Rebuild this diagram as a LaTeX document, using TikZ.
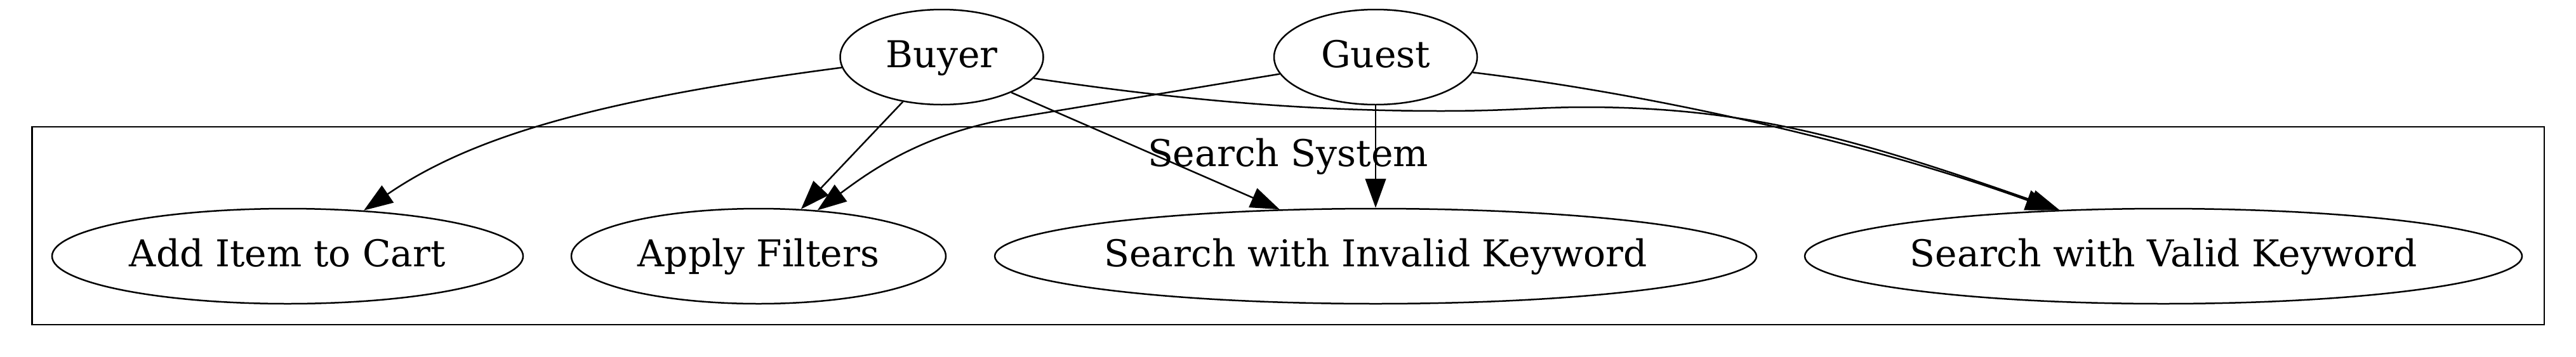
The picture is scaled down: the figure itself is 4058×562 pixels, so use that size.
\documentclass[tikz,border=0pt]{standalone}
\usepackage{fontspec}
\setmainfont{DejaVu Serif}
\usetikzlibrary{shapes.geometric,arrows.meta}
\begin{document}
\begin{tikzpicture}[x=0.24pt,y=-0.24pt,
  every node/.style={font=\fontsize{14pt}{16pt}\selectfont},
  usecase/.style={ellipse, draw, line width=0.6pt, minimum height=36pt,
    inner xsep=-15pt, inner ysep=0pt, text height=10.8pt, text depth=2.8pt},
  conn/.style={draw, line width=0.6pt, -{Triangle[length=11pt,width=7.8pt]}},
  clusterbox/.style={draw, line width=0.7pt, rectangle, inner sep=0pt}
]
\useasboundingbox (0,0) rectangle (4058,562);

% cluster
\node[clusterbox, minimum width=949.92pt, minimum height=74.88pt] (sys) at (2029,356) {};
\node[anchor=base, inner sep=0pt] (syslabel) at (2029,262) {Search System};

% nodes
\node[usecase, minimum width=76.8pt] (buyer) at (1483.5,90) {Buyer};
\node[usecase, minimum width=76.8pt] (guest) at (2167,90) {Guest};
\node[usecase, minimum width=178.1pt] (add) at (453,404) {Add Item to Cart};
\node[usecase, minimum width=141.6pt] (apply) at (1195,404) {Apply Filters};
\node[usecase, minimum width=288pt] (invalid) at (2167,404) {Search with Invalid Keyword};
\node[usecase, minimum width=271.2pt] (valid) at (3408,404) {Search with Valid Keyword};

% connectors
\draw[conn] (buyer.186.6) .. controls +(-397,52) and +(165,-113) .. (add.31.4);
\draw[conn] (buyer.229) -- (apply.48);
\draw[conn] (buyer.333.8) -- (invalid.154.8);
\draw[conn] (buyer.347.7) .. controls +(222,33) and +(-220,0) .. (2270,175)
   .. controls +(110,0) and +(-77,0) .. (2497,169)
   .. controls +(250,0) and +(-329,-115.5) .. (valid.156);
\draw[conn] (guest.190.1) -- ++(-417,69) .. controls +(-148,24.5) and +(80.5,-59.4) .. (apply.38);
\draw[conn] (guest) -- (invalid);
\draw[conn] (guest.351.1) .. controls +(298,36) and +(-282,-102) .. (valid.157.7);
\end{tikzpicture}
\end{document}
